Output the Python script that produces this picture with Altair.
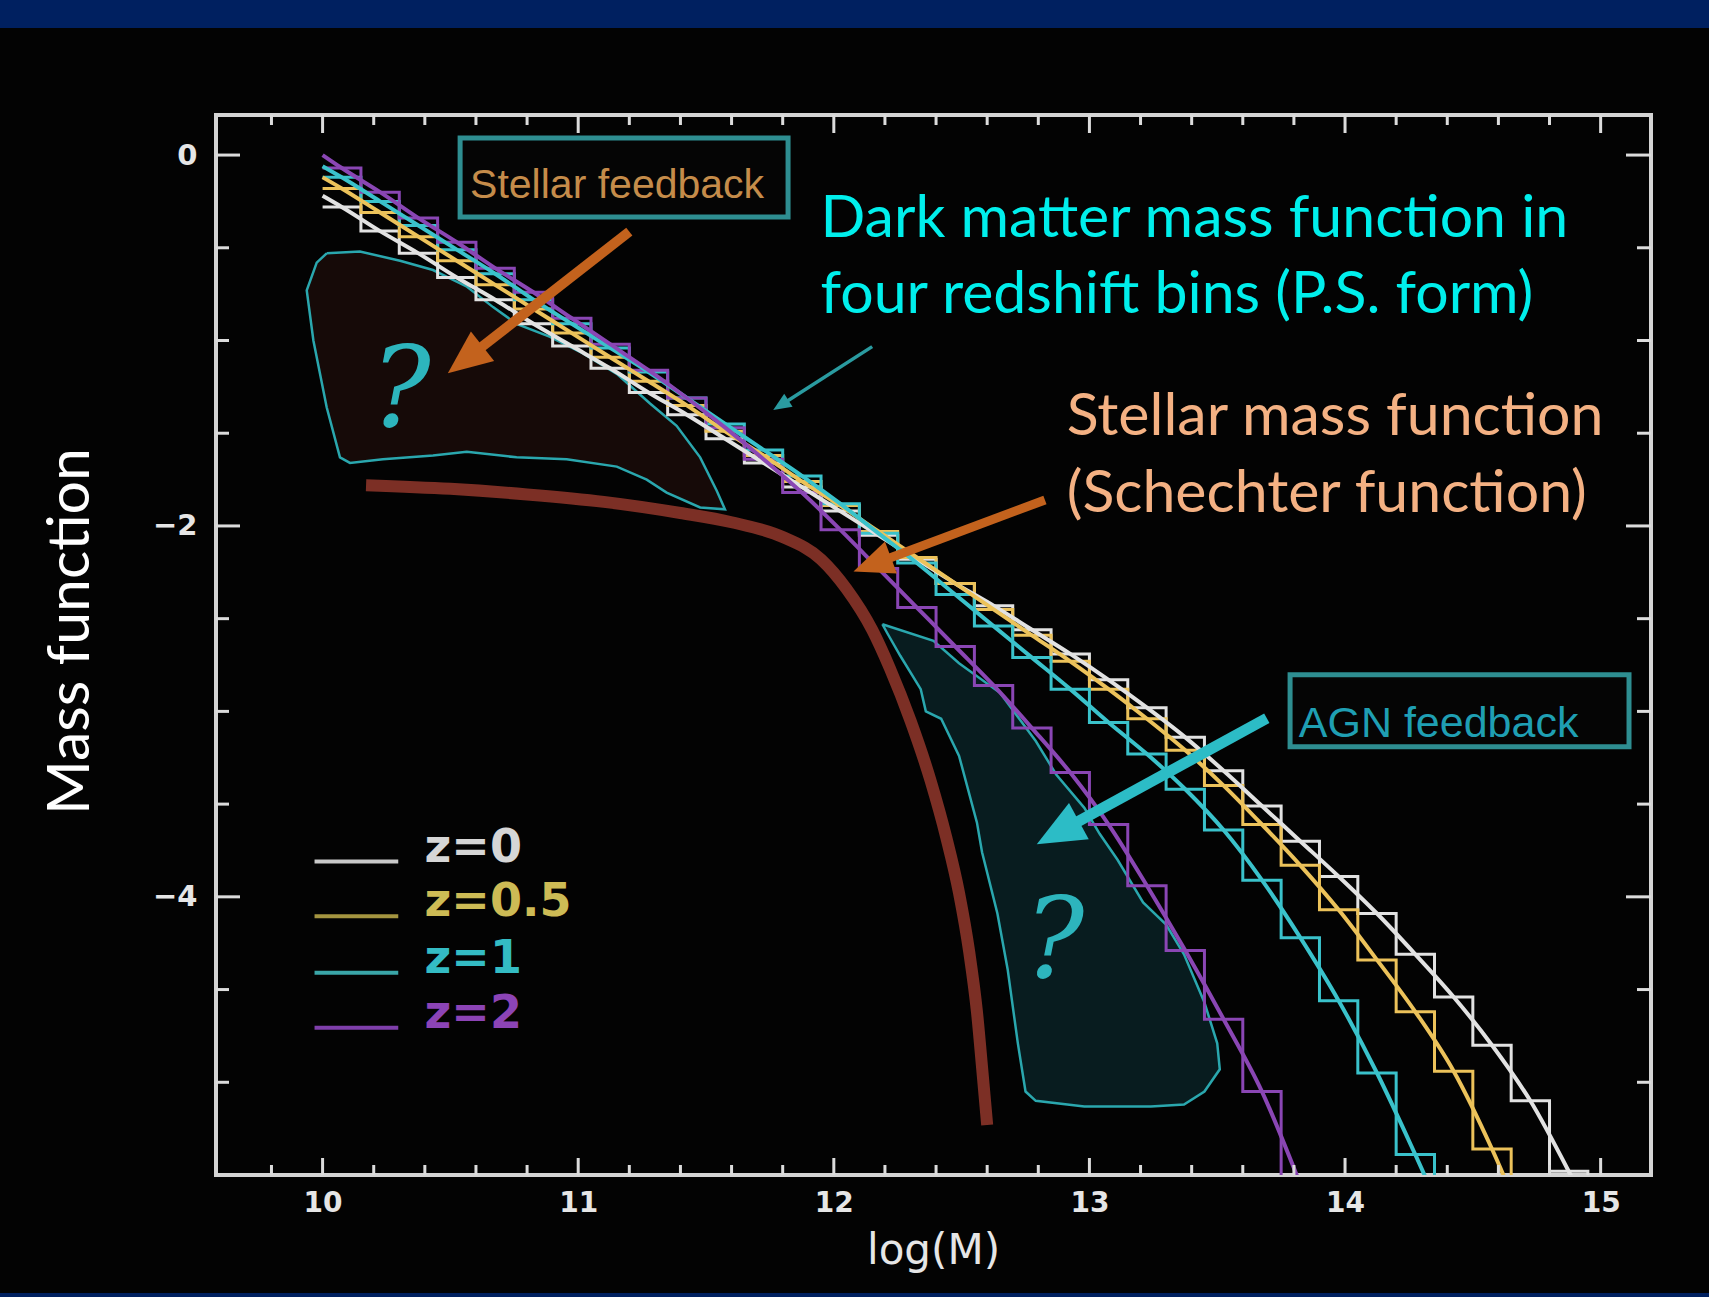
import math
import altair as alt
import pandas as pd

# ---------------- values ----------------
bin_center = [10.075, 10.225, 10.375, 10.525, 10.675, 10.825, 10.975, 11.125, 11.275, 11.425,
              11.575, 11.725, 11.875, 12.025, 12.175, 12.325, 12.475, 12.625, 12.775, 12.925,
              13.075, 13.225, 13.375, 13.525, 13.675, 13.825, 13.975, 14.125, 14.275, 14.425,
              14.575, 14.725, 14.875, 15.025]
bin_width = 0.15
mf_z0 = [-0.28, -0.41, -0.53, -0.66, -0.78, -0.91, -1.03, -1.15, -1.28, -1.40,
         -1.53, -1.66, -1.79, -1.92, -2.05, -2.18, -2.31, -2.43, -2.56, -2.69,
         -2.83, -2.98, -3.14, -3.32, -3.51, -3.70, -3.89, -4.09, -4.31, -4.54,
         -4.80, -5.10, -5.48, -5.90]
mf_z05 = [-0.18, -0.31, -0.44, -0.57, -0.70, -0.83, -0.96, -1.09, -1.22, -1.35,
          -1.49, -1.62, -1.76, -1.89, -2.03, -2.17, -2.31, -2.45, -2.59, -2.73,
          -2.88, -3.04, -3.21, -3.40, -3.61, -3.83, -4.07, -4.34, -4.62, -4.94,
          -5.36, -5.85]
mf_z1 = [-0.12, -0.25, -0.38, -0.51, -0.64, -0.78, -0.91, -1.04, -1.17, -1.31,
         -1.45, -1.59, -1.73, -1.88, -2.04, -2.20, -2.37, -2.54, -2.71, -2.88,
         -3.06, -3.23, -3.42, -3.64, -3.91, -4.22, -4.56, -4.95, -5.39, -5.85]
mf_z2 = [-0.07, -0.20, -0.34, -0.47, -0.61, -0.74, -0.88, -1.02, -1.16, -1.31,
         -1.47, -1.64, -1.82, -2.02, -2.23, -2.44, -2.65, -2.86, -3.09, -3.33,
         -3.61, -3.94, -4.29, -4.66, -5.05, -5.55, -6.10]
# smooth curves: value read at log(M) = 10.0 where the curves begin
curve_start_x = 10.0
curve_start = [-0.22, -0.12, -0.06, 0.0]
z_labels = ["z=0", "z=0.5", "z=1", "z=2"]
z_colors = ["#e2e2e2", "#ecc25a", "#3ac2cb", "#8a46b4"]
legend_line_colors = ["#c9c9c9", "#a49540", "#3aa6a8", "#7f3fab"]
legend_text_colors = ["#d6d6d6", "#cdbb55", "#34bcc4", "#8c44b6"]

# Schechter (stellar mass function)
sch_x = [10.17, 10.5, 10.8, 11.1, 11.4, 11.6, 11.8, 11.95, 12.05, 12.15, 12.22, 12.30, 12.38,
         12.44, 12.49, 12.53, 12.56, 12.58, 12.60]
sch_y = [-1.78, -1.80, -1.83, -1.87, -1.93, -1.98, -2.06, -2.18, -2.34, -2.56, -2.77, -3.05,
         -3.38, -3.68, -3.98, -4.30, -4.62, -4.92, -5.23]

# feedback regions (outline points)
sf_x = [10.016, 10.146, 10.303, 10.432, 10.565, 10.667, 10.759, 10.890, 11.019, 11.151, 11.281,
        11.385, 11.477, 11.542, 11.574, 11.477, 11.346, 11.268, 11.151, 10.955, 10.759, 10.564,
        10.432, 10.236, 10.107, 10.068, 10.016, 9.964, 9.938, 9.977, 10.016]
sf_y = [-0.53, -0.52, -0.57, -0.62, -0.71, -0.82, -0.91, -0.98, -1.07, -1.18, -1.34,
        -1.46, -1.63, -1.81, -1.91, -1.90, -1.82, -1.75, -1.68, -1.64, -1.63, -1.60,
        -1.62, -1.64, -1.66, -1.63, -1.36, -1.00, -0.73, -0.58, -0.53]
agn_x = [12.19, 12.39, 12.49, 12.65, 12.79, 12.87, 12.98, 13.04, 13.11, 13.21, 13.30, 13.37,
         13.45, 13.50, 13.51, 13.45, 13.37, 13.24, 12.98, 12.79, 12.75, 12.72, 12.68, 12.64,
         12.58, 12.56, 12.49, 12.42, 12.36, 12.34, 12.26, 12.21, 12.19]
agn_y = [-2.53, -2.62, -2.74, -2.90, -3.16, -3.34, -3.52, -3.66, -3.80, -4.03, -4.15, -4.31,
         -4.57, -4.79, -4.93, -5.05, -5.12, -5.13, -5.13, -5.10, -5.05, -4.79, -4.39, -4.09,
         -3.76, -3.60, -3.24, -3.04, -3.00, -2.88, -2.70, -2.58, -2.53]

# arrows (start -> tip)
arrow_x0 = [11.20, 12.15, 12.826, 13.694]
arrow_y0 = [-0.413, -1.033, -1.86, -3.037]
arrow_x1 = [10.49, 11.763, 12.077, 12.794]
arrow_y1 = [-1.177, -1.375, -2.246, -3.716]
arrow_color = ["#c3621d", "#2a9ba0", "#c3621d", "#2cbcc6"]
arrow_width = [10, 3.5, 9, 11]
arrow_head = [44, 18, 40, 48]

# annotation texts
note_text = ["Dark matter mass function in", "four redshift bins (P.S. form)",
             "Stellar mass function", "(Schechter function)"]
note_x = [11.948, 11.948, 12.911, 12.911]
note_y = [-0.440, -0.852, -1.509, -1.923]
note_color = ["#00efec", "#00efec", "#f4b183", "#f4b183"]

box_text = ["Stellar feedback", "AGN feedback"]
box_text_x = [10.577, 13.819]
box_text_y = [-0.232, -3.136]
box_text_color = ["#c58c4a", "#1f9fb3"]
box_x1 = [10.538, 13.785]
box_x2 = [11.821, 15.111]
box_y1 = [0.092, -2.803]
box_y2 = [-0.334, -3.191]

qmark_x = [10.306, 12.862]
qmark_y = [-1.278, -4.248]

legend_y = [-3.81, -4.105, -4.41, -4.706]
legend_x0, legend_x1, legend_tx = 9.9685, 10.296, 10.399

x_major = [10, 11, 12, 13, 14, 15]
x_minor = [9.8, 10.2, 10.4, 10.6, 10.8, 11.2, 11.4, 11.6, 11.8, 12.2, 12.4, 12.6, 12.8,
           13.2, 13.4, 13.6, 13.8, 14.2, 14.4, 14.6, 14.8]
y_major = [0, -2, -4]
y_minor = [-0.5, -1, -1.5, -2.5, -3, -3.5, -4.5, -5]

# ---------------- layout ----------------
TOTAL_W, TOTAL_H = 1709, 1297
PAD_L, PAD_T = 216, 115
W, H = 1435, 1060
PAD_R = TOTAL_W - PAD_L - W
PAD_B = TOTAL_H - PAD_T - H
XMIN, XMAX = 9.583, 15.197
YMIN, YMAX = -5.5, 0.216
SX = W / (XMAX - XMIN)
SY = H / (YMAX - YMIN)

xscale = alt.Scale(domain=[XMIN, XMAX], nice=False, zero=False)
yscale = alt.Scale(domain=[YMIN, YMAX], nice=False, zero=False)
xaxis = alt.Axis(values=x_major, format="d", title="log(M)", ticks=False, domain=False, grid=False,
                 labelFont="DejaVu Sans", labelFontWeight="bold", labelFontSize=28,
                 labelColor="#e6e6e6", labelPadding=14,
                 titleFont="DejaVu Sans", titleFontSize=42, titleFontWeight="normal",
                 titleColor="#e6e6e6", titleX=717, titleY=88, titleAlign="center",
                 titleBaseline="alphabetic")
yaxis = alt.Axis(values=y_major, format="d", title="Mass function", ticks=False, domain=False,
                 grid=False, labelFont="DejaVu Sans", labelFontWeight="bold", labelFontSize=29,
                 labelColor="#e6e6e6", labelPadding=19,
                 titleFont="Lato", titleFontSize=59, titleFontWeight="normal", titleColor="#ffffff",
                 titleAngle=270, titleX=-128, titleY=516, titleAlign="center",
                 titleBaseline="alphabetic")


def X(f):
    return alt.X(f, type="quantitative", scale=xscale, axis=xaxis)


def Y(f):
    return alt.Y(f, type="quantitative", scale=yscale, axis=yaxis)


layers = []

# slide bands
one = pd.DataFrame({"k": [0]})
layers.append(alt.Chart(one).mark_rect(color="#002060").encode(
    x=alt.value(-PAD_L), x2=alt.value(TOTAL_W - PAD_L), y=alt.value(-PAD_T), y2=alt.value(-PAD_T + 28)))
layers.append(alt.Chart(one).mark_rect(color="#002060").encode(
    x=alt.value(-PAD_L), x2=alt.value(TOTAL_W - PAD_L), y=alt.value(H + PAD_B - 4), y2=alt.value(H + PAD_B)))

# feedback regions
for px, py, fillc in [(sf_x, sf_y, "#160a08"), (agn_x, agn_y, "#081c1f")]:
    df = pd.DataFrame({"i": list(range(len(px))), "x": px, "y": py})
    layers.append(alt.Chart(df).mark_line(fill=fillc, stroke="#2aa7ae", strokeWidth=2.5, clip=True)
                  .encode(x=X("x"), y=Y("y"), order=alt.Order("i:Q")))

series = [mf_z0, mf_z05, mf_z1, mf_z2]
# histograms (bins of width 0.15 starting at log M = 10)
for vals, col in zip(series, z_colors):
    df = pd.DataFrame({"logM": bin_center[:len(vals)], "mf": vals})
    layers.append(alt.Chart(df).transform_calculate(edge=f"datum.logM - {bin_width / 2}")
                  .mark_line(interpolate="step-after", color=col, strokeWidth=3, clip=True)
                  .encode(x=X("edge"), y=Y("mf")))
# smooth curves
for vals, col, v0 in zip(series, z_colors, curve_start):
    df = pd.DataFrame({"logM": [curve_start_x] + bin_center[:len(vals)], "mf": [v0] + vals})
    layers.append(alt.Chart(df).mark_line(interpolate="monotone", color=col, strokeWidth=4, clip=True)
                  .encode(x=X("logM"), y=Y("mf")))

# Schechter function
sch_df = pd.DataFrame({"x": sch_x, "y": sch_y})
layers.append(alt.Chart(sch_df).mark_line(interpolate="monotone", color="#7c2f25", strokeWidth=12,
                                           strokeCap="butt", clip=True)
              .encode(x=X("x"), y=Y("y")))

# arrows
rows = []
for x0, y0, x1, y1, c, w, L in zip(arrow_x0, arrow_y0, arrow_x1, arrow_y1, arrow_color,
                                   arrow_width, arrow_head):
    dxp = (x1 - x0) * SX
    dyp = -(y1 - y0) * SY
    n = math.hypot(dxp, dyp)
    ux, uy = dxp / n, dyp / n
    ang = math.degrees(math.atan2(ux, -uy)) % 360
    back = 0.7 * L
    ex = x1 - ux * back / SX
    ey = y1 + uy * back / SY
    r = L / 1.4
    rows.append({"x0": x0, "y0": y0, "ex": ex, "ey": ey, "tx": x1, "ty": y1, "c": c, "w": w,
                 "ang": ang, "sz": (2 * r) ** 2})
arr_df = pd.DataFrame(rows)
layers.append(alt.Chart(arr_df).mark_rule(strokeCap="butt").encode(
    x=X("x0"), y=Y("y0"), x2=alt.X2("ex"), y2=alt.Y2("ey"),
    color=alt.Color("c:N", scale=None), strokeWidth=alt.StrokeWidth("w:Q", scale=None)))
layers.append(alt.Chart(arr_df).mark_point(shape="M0,0L0.6,1.4L-0.6,1.4Z", filled=True, opacity=1,
                                           strokeWidth=0)
              .encode(x=X("tx"), y=Y("ty"), color=alt.Color("c:N", scale=None),
                      angle=alt.Angle("ang:Q", scale=None), size=alt.Size("sz:Q", scale=None)))

# question marks
q_df = pd.DataFrame({"x": qmark_x, "y": qmark_y, "t": ["?", "?"]})
layers.append(alt.Chart(q_df).mark_text(font="DejaVu Serif", fontSize=112, fontStyle="italic",
                                        color="#2db5bd", align="center", baseline="middle")
              .encode(x=X("x"), y=Y("y"), text="t:N"))

# boxed labels
box_df = pd.DataFrame({"x1": box_x1, "x2": box_x2, "y1": box_y1, "y2": box_y2})
layers.append(alt.Chart(box_df).mark_rect(fill="#050505", stroke="#2e8e91", strokeWidth=5)
              .encode(x=X("x1"), x2=alt.X2("x2"), y=Y("y1"), y2=alt.Y2("y2")))
bt_df = pd.DataFrame({"x": box_text_x, "y": box_text_y, "t": box_text, "c": box_text_color,
                      "s": [41, 43]})
layers.append(alt.Chart(bt_df).mark_text(font="Liberation Sans", align="left", baseline="alphabetic")
              .encode(x=X("x"), y=Y("y"), text="t:N", color=alt.Color("c:N", scale=None),
                      size=alt.Size("s:Q", scale=None)))

# annotations
nt_df = pd.DataFrame({"x": note_x, "y": note_y, "t": note_text, "c": note_color})
layers.append(alt.Chart(nt_df).mark_text(font="Lato", fontSize=59, align="left", baseline="alphabetic")
              .encode(x=X("x"), y=Y("y"), text="t:N", color=alt.Color("c:N", scale=None)))

# legend
lg_df = pd.DataFrame({"y": legend_y, "x0": [legend_x0] * 4, "x1": [legend_x1] * 4,
                      "tx": [legend_tx] * 4, "t": z_labels, "lc": legend_line_colors,
                      "tc": legend_text_colors})
layers.append(alt.Chart(lg_df).mark_rule(strokeWidth=4).encode(
    x=X("x0"), x2=alt.X2("x1"), y=Y("y"), color=alt.Color("lc:N", scale=None)))
layers.append(alt.Chart(lg_df).mark_text(font="DejaVu Sans", fontWeight="bold", fontSize=46,
                                         align="left", baseline="alphabetic")
              .encode(x=X("tx"), y=Y("y"), text="t:N", color=alt.Color("tc:N", scale=None)))


# inward ticks on all four sides
def tick_layer(vals, kind, side, length):
    df = pd.DataFrame({"v": vals})
    base = alt.Chart(df).mark_rule(color="#dcdcdc", strokeWidth=3)
    if kind == "x":
        if side == "bottom":
            return base.encode(x=X("v"), y=alt.value(H), y2=alt.value(H - length))
        return base.encode(x=X("v"), y=alt.value(0), y2=alt.value(length))
    if side == "left":
        return base.encode(y=Y("v"), x=alt.value(0), x2=alt.value(length))
    return base.encode(y=Y("v"), x=alt.value(W), x2=alt.value(W - length))


layers += [tick_layer(x_major, "x", "bottom", 17), tick_layer(x_minor, "x", "bottom", 10),
           tick_layer(x_major, "x", "top", 18), tick_layer(x_minor, "x", "top", 10),
           tick_layer(y_major, "y", "left", 24), tick_layer(y_minor, "y", "left", 13),
           tick_layer(y_major, "y", "right", 25), tick_layer(y_minor, "y", "right", 14)]

chart = alt.layer(*layers).properties(
    width=W, height=H, background="#030303",
    padding={"left": PAD_L, "top": PAD_T, "right": PAD_R, "bottom": PAD_B},
    autosize=alt.AutoSizeParams(type="none"),
).configure_view(stroke="#d4d4d4", strokeWidth=4)

chart.save("out.html", embed_options={"renderer": "svg", "actions": False})
